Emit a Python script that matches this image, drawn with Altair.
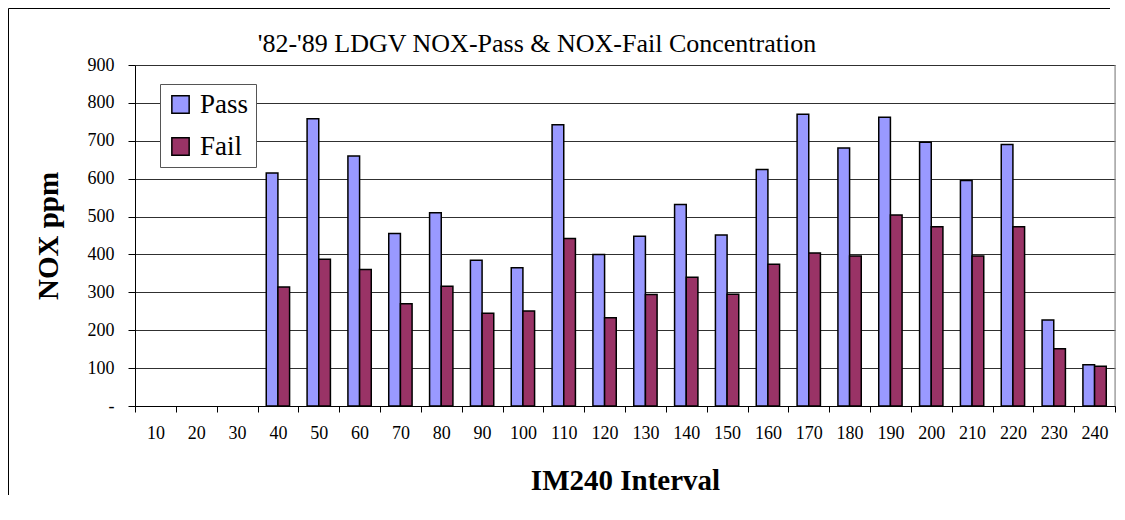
import altair as alt
import pandas as pd

categories = [10, 20, 30, 40, 50, 60, 70, 80, 90, 100, 110, 120,
              130, 140, 150, 160, 170, 180, 190, 200, 210, 220, 230, 240]
pass_vals = [None, None, None, 615, 758, 660, 455, 510, 385, 365, 742, 400,
             448, 532, 451, 624, 770, 681, 762, 696, 595, 690, 227, 109]
fail_vals = [None, None, None, 314, 387, 360, 270, 316, 245, 251, 442, 233,
             294, 340, 295, 374, 404, 396, 504, 473, 396, 473, 151, 105]
series = ["Pass", "Fail"]
colors = ["#9999FF", "#993366"]
y_ticks = [0, 100, 200, 300, 400, 500, 600, 700, 800, 900]

rows = []
for c, p, f in zip(categories, pass_vals, fail_vals):
    if p is not None:
        rows.append({"interval": c, "series": "Pass", "value": p})
    if f is not None:
        rows.append({"interval": c, "series": "Fail", "value": f})
df = pd.DataFrame(rows)

FONT = "Liberation Serif"

bars = alt.Chart(df).mark_bar(stroke="black", strokeWidth=1.5).encode(
    x=alt.X("interval:O",
            scale=alt.Scale(domain=categories, paddingInner=0, paddingOuter=0),
            axis=alt.Axis(title="IM240 Interval", labelAngle=0, tickBand="extent",
                          domainColor="black", tickColor="black", tickSize=6,
                          labelPadding=12, labelFontSize=18, labelFont=FONT,
                          labelColor="black",
                          titleFont=FONT, titleFontSize=29, titleFontWeight="bold",
                          titleColor="black", titleY=83, titleBaseline="alphabetic",
                          grid=False)),
    xOffset=alt.XOffset("series:N", sort=series,
                        scale=alt.Scale(domain=series, paddingInner=0, paddingOuter=0.75)),
    y=alt.Y("value:Q",
            scale=alt.Scale(domain=[0, 900], nice=False),
            axis=alt.Axis(title="NOX ppm", values=y_ticks,
                          labelExpr="datum.value == 0 ? '-' : datum.label",
                          domainColor="black", tickColor="black", tickSize=7,
                          labelPadding=14, labelFontSize=18, labelFont=FONT,
                          labelColor="black",
                          titleFont=FONT, titleFontSize=29, titleFontWeight="bold",
                          titleColor="black", titleAngle=-90, titleX=-78,
                          titleBaseline="alphabetic",
                          grid=True, gridColor="#303030", gridWidth=1)),
    color=alt.Color("series:N", sort=series,
                    scale=alt.Scale(domain=series, range=colors),
                    legend=alt.Legend(title=None, orient="none", legendX=25, legendY=19,
                                      fillColor="white", strokeColor="#555555",
                                      padding=7, symbolType="square", symbolSize=300,
                                      symbolStrokeColor="black", symbolStrokeWidth=1.5,
                                      symbolOpacity=1, labelFont=FONT, labelFontSize=27,
                                      labelColor="black", labelOffset=6, rowPadding=14)),
)

frame_df = pd.DataFrame({"a": [0]})
plot_right = alt.Chart(frame_df).mark_rule(color="#808080", strokeWidth=1).encode(
    x=alt.value(alt.expr("width")), x2=alt.value(alt.expr("width")),
    y=alt.value(0), y2=alt.value(alt.expr("height"))
)
frame_left = alt.Chart(frame_df).mark_rule(color="black", strokeWidth=1).encode(
    x=alt.value(-126.5), x2=alt.value(-126.5), y=alt.value(-56.5), y2=alt.value(430)
)
frame_top = alt.Chart(frame_df).mark_rule(color="black", strokeWidth=1).encode(
    x=alt.value(-126.5), x2=alt.value(975), y=alt.value(-56.5), y2=alt.value(-56.5)
)

chart = alt.layer(frame_left, frame_top, plot_right, bars).properties(
    width=980, height=341,
    title=alt.TitleParams("'82-'89 LDGV NOX-Pass & NOX-Fail Concentration",
                          font=FONT, fontSize=26, fontWeight="normal", color="black",
                          anchor="middle", dx=-88, offset=12, dy=82,
                          baseline="alphabetic"),
    autosize=alt.AutoSizeParams(type="none"),
    padding={"left": 127, "top": 57, "right": 2, "bottom": 100},
).configure_view(stroke="transparent").configure(background="white", font=FONT)

chart.save("out.html", embed_options={"renderer": "svg", "actions": False})
